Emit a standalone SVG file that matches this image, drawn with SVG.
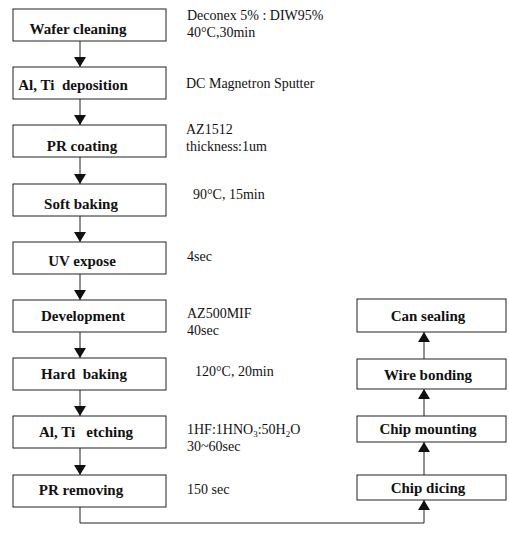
<svg xmlns="http://www.w3.org/2000/svg" width="509" height="533" viewBox="0 0 509 533">
<style>
.box{fill:#fff;stroke:#222;stroke-width:1}
.lbl{font-family:"Liberation Serif","Times New Roman",serif;font-weight:bold;font-size:15px;fill:#111;text-anchor:middle;white-space:pre}
.note{font-family:"Liberation Serif","Times New Roman",serif;font-size:14px;fill:#111}
.con{fill:none;stroke:#222;stroke-width:1}
</style>
<defs>
<marker id="ah" markerUnits="userSpaceOnUse" markerWidth="10" markerHeight="12" refX="10" refY="6" orient="auto">
<path d="M0,0 L10,6 L0,12 z" fill="#111"/>
</marker>
</defs>
<rect width="509" height="533" fill="#fff"/>
<g id="connectors">
<line class="con" x1="80" y1="41" x2="80" y2="67" marker-end="url(#ah)"/>
<line class="con" x1="80" y1="99" x2="80" y2="125" marker-end="url(#ah)"/>
<line class="con" x1="80" y1="157" x2="80" y2="184" marker-end="url(#ah)"/>
<line class="con" x1="80" y1="216" x2="80" y2="242" marker-end="url(#ah)"/>
<line class="con" x1="80" y1="274" x2="80" y2="300" marker-end="url(#ah)"/>
<line class="con" x1="80" y1="332" x2="80" y2="358" marker-end="url(#ah)"/>
<line class="con" x1="80" y1="390" x2="80" y2="416" marker-end="url(#ah)"/>
<line class="con" x1="80" y1="448" x2="80" y2="475" marker-end="url(#ah)"/>
<polyline class="con" points="80,507 80,523 424,523 424,500" marker-end="url(#ah)"/>
<line class="con" x1="424" y1="475" x2="424" y2="442" marker-end="url(#ah)"/>
<line class="con" x1="424" y1="416" x2="424" y2="389" marker-end="url(#ah)"/>
<line class="con" x1="424" y1="359" x2="424" y2="332" marker-end="url(#ah)"/>
</g>
<g id="n1"><rect class="box" x="13" y="9" width="153" height="32"/><text class="lbl" x="78" y="34">Wafer cleaning</text></g>
<g id="n2"><rect class="box" x="13" y="67" width="153" height="32"/><text class="lbl" x="73" y="90" xml:space="preserve">Al, Ti  deposition</text></g>
<g id="n3"><rect class="box" x="13" y="125" width="153" height="32"/><text class="lbl" x="82" y="151">PR coating</text></g>
<g id="n4"><rect class="box" x="13" y="184" width="153" height="32"/><text class="lbl" x="81" y="209">Soft baking</text></g>
<g id="n5"><rect class="box" x="13" y="242" width="153" height="32"/><text class="lbl" x="82" y="266">UV expose</text></g>
<g id="n6"><rect class="box" x="13" y="300" width="153" height="32"/><text class="lbl" x="83" y="321">Development</text></g>
<g id="n7"><rect class="box" x="13" y="358" width="153" height="32"/><text class="lbl" x="84" y="379" xml:space="preserve">Hard  baking</text></g>
<g id="n8"><rect class="box" x="13" y="416" width="153" height="32"/><text class="lbl" x="86" y="437" xml:space="preserve">Al, Ti   etching</text></g>
<g id="n9"><rect class="box" x="13" y="475" width="153" height="32"/><text class="lbl" x="81" y="495">PR removing</text></g>
<g id="r1"><rect class="box" x="357" y="299" width="149" height="33"/><text class="lbl" x="428" y="321">Can sealing</text></g>
<g id="r2"><rect class="box" x="357" y="359" width="149" height="30"/><text class="lbl" x="428" y="380">Wire bonding</text></g>
<g id="r3"><rect class="box" x="357" y="416" width="149" height="26"/><text class="lbl" x="428" y="434">Chip mounting</text></g>
<g id="r4"><rect class="box" x="357" y="475" width="149" height="25"/><text class="lbl" x="428" y="493">Chip dicing</text></g>
<g id="notes">
<text class="note" x="187" y="20">Deconex 5% : DIW95%</text>
<text class="note" x="187" y="37">40°C,30min</text>
<text class="note" x="186" y="88">DC Magnetron Sputter</text>
<text class="note" x="186" y="134">AZ1512</text>
<text class="note" x="186" y="151">thickness:1um</text>
<text class="note" x="193" y="199">90°C, 15min</text>
<text class="note" x="187" y="261">4sec</text>
<text class="note" x="187" y="318">AZ500MIF</text>
<text class="note" x="187" y="335">40sec</text>
<text class="note" x="195" y="376">120°C, 20min</text>
<text class="note" x="187" y="434">1HF:1HNO<tspan font-size="9" dy="3">3</tspan><tspan dy="-3">:50H</tspan><tspan font-size="9" dy="3">2</tspan><tspan dy="-3">O</tspan></text>
<text class="note" x="187" y="451">30~60sec</text>
<text class="note" x="187" y="494">150 sec</text>
</g>
</svg>
